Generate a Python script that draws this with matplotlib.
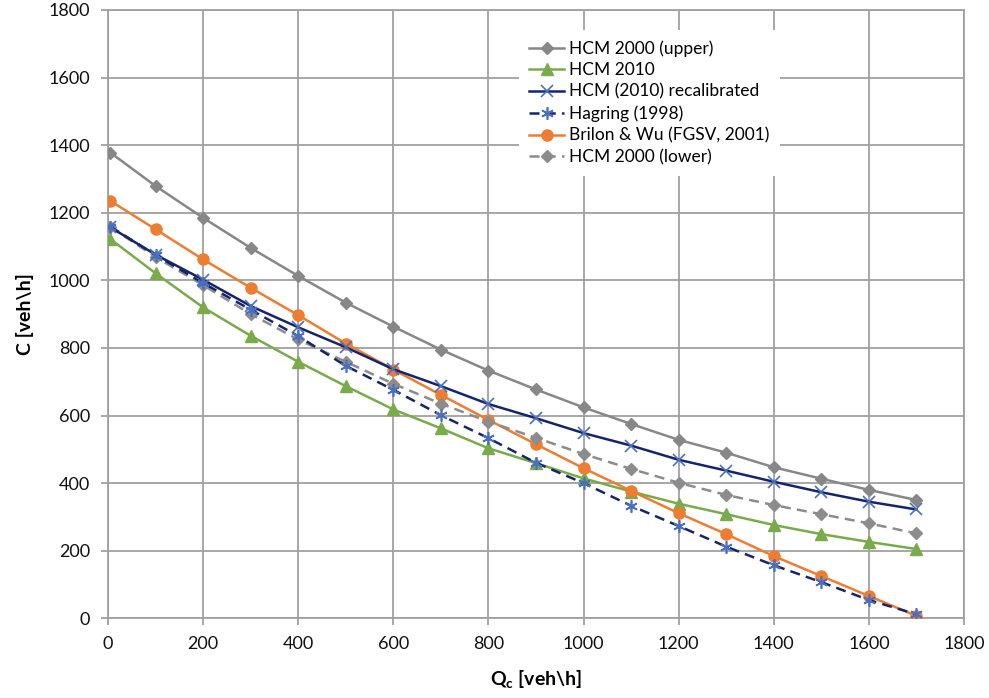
import matplotlib.pyplot as plt

plt.rcParams['font.family'] = ['Lato', 'DejaVu Sans']

qc = [5, 100, 200, 300, 400, 500, 600, 700, 800, 900, 1000, 1100, 1200, 1300, 1400, 1500, 1600, 1700]

hcm2000Upper = [1378, 1279, 1185, 1096, 1013, 934, 863, 795, 733, 677, 624, 575, 528, 490, 447, 413, 380, 350]
hcm2010 = [1122, 1021, 920, 836, 759, 687, 618, 562, 503, 459, 414, 375, 339, 308, 276, 249, 226, 205]
hcm2010Recal = [1157, 1076, 1002, 924, 861, 802, 737, 687, 634, 592, 548, 511, 469, 437, 404, 373, 345, 322]
hagring = [1159, 1075, 992, 913, 835, 747, 676, 601, 533, 460, 400, 333, 273, 212, 157, 107, 54, 12]
brilonWu = [1235, 1151, 1062, 978, 897, 813, 736, 661, 587, 515, 444, 377, 311, 249, 184, 125, 66, 7]
hcm2000Lower = [1158, 1069, 986, 900, 825, 759, 694, 635, 582, 534, 486, 442, 401, 365, 335, 308, 281, 251]

fig = plt.figure(figsize=(9.89, 6.98), dpi=100)
ax = fig.add_axes([0.1092, 0.1142, 0.8655, 0.8715])

ax.plot(qc, hcm2000Upper, '-', color='#878787', lw=1.8, marker='D', ms=6,
        mfc='#878787', mec='#878787', label='HCM 2000 (upper)', zorder=3)
ax.plot(qc, hcm2010, '-', color='#7aab4a', lw=1.8, marker='^', ms=8,
        mfc='#7aab4a', mec='#7aab4a', label='HCM 2010', zorder=3)
ax.plot(qc, hcm2010Recal, '-', color='#15256b', lw=1.8, marker='x', ms=9, mew=1.2,
        mec='#4a6fc0', label='HCM (2010) recalibrated', zorder=4)
ax.plot(qc, hagring, '--', color='#15256b', lw=1.8, dashes=(4, 2.5), marker=(6, 2, 0), ms=9, mew=1.2,
        mec='#4a6fc0', label='Hagring (1998)', zorder=4)
ax.plot(qc, brilonWu, '-', color='#ed7d31', lw=1.8, marker='o', ms=8,
        mfc='#ed7d31', mec='#ed7d31', label='Brilon & Wu (FGSV, 2001)', zorder=3)
ax.plot(qc, hcm2000Lower, '--', color='#8c8c8c', lw=1.8, dashes=(4, 2.5), marker='D', ms=6,
        mfc='#8c8c8c', mec='#8c8c8c', label='HCM 2000 (lower)', zorder=3)

ax.set_xlim(0, 1800)
ax.set_ylim(0, 1800)
ax.set_xticks(range(0, 1801, 200))
ax.set_yticks(range(0, 1801, 200))
ax.grid(True, color='#a0a0a0', lw=1.3)
ax.set_axisbelow(True)
for s in ax.spines.values():
    s.set_color('#a0a0a0')
    s.set_linewidth(1.3)
ax.tick_params(direction='out', length=5, width=1.3, color='#a0a0a0',
               labelsize=13, labelcolor='#111111', pad=8)

ax.set_xlabel(r'Q$_\mathregular{c}$ [veh\h]', fontsize=14, fontweight='bold', labelpad=12)
ax.set_ylabel(r'C [veh\h]', fontsize=14, fontweight='bold', labelpad=10)

leg = ax.legend(loc='upper left', bbox_to_anchor=(0.47, 0.982), frameon=True,
                fontsize=12.5, handlelength=2.0, handletextpad=0.3,
                labelspacing=0.32, borderpad=0.6)
leg.get_frame().set_facecolor('white')
leg.get_frame().set_edgecolor('none')
leg.get_frame().set_alpha(1)

fig.savefig('out.png', dpi=100)
